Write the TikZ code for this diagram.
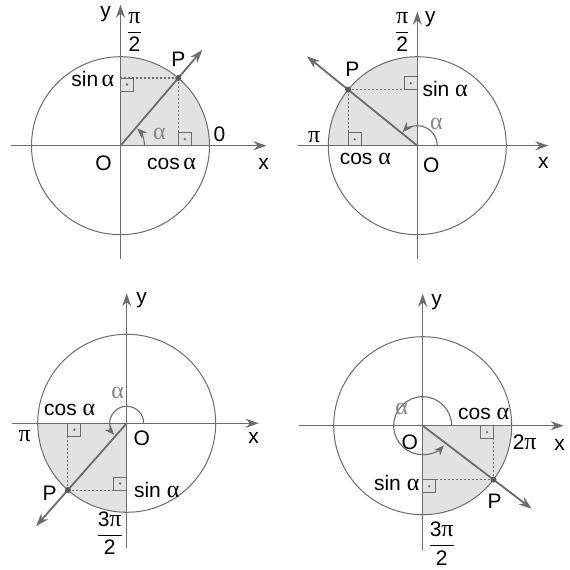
\documentclass[tikz,border=0pt]{standalone}
\usepackage{fontspec}
\usepackage{amsmath}
\usepackage{tikz}
\setmainfont{Liberation Sans}
\newfontfamily\grk{Liberation Serif}
\usetikzlibrary{arrows.meta}

\definecolor{lin}{HTML}{6C6C6C}
\definecolor{quadfill}{HTML}{E2E2E2}
\definecolor{alf}{HTML}{858585}

\newcommand{\galpha}{{\grk\fontsize{24}{24}\selectfont α}}
\newcommand{\gpi}{{\grk\fontsize{24}{24}\selectfont π}}

\tikzset{
  axis/.style={draw=lin, line width=1.4pt, ->},
  unit/.style={draw=lin, line width=1pt},
  ray/.style={draw=lin, line width=1.8pt, ->},
  proj/.style={draw=lin, line width=1.1pt, dash pattern=on 2pt off 2pt},
  turn/.style={draw=lin, line width=1.1pt, -{Stealth[length=10pt,width=8pt]}},
  quad/.style={fill=quadfill},
  rbox/.style={draw=lin, line width=0.9pt},
  lbl/.style={inner sep=1pt, font=\fontsize{21}{24}\selectfont},
  alab/.style={lbl, text=alf},
  pt/.style={circle, fill=black!65, inner sep=0pt, minimum size=6pt},
}

% right angle square with a dot
\newcommand{\rangmark}[3]{%
  \draw[rbox] (#1) rectangle ++(#2*13,#3*13);
  \fill[lin] (#1) ++(#2*6.5,#3*6.5) circle (1.3);}

\begin{document}
\begin{tikzpicture}[x=1pt, y=1pt, >={Stealth[length=13pt,width=9pt]}]
\useasboundingbox[fill=white] (0,0) rectangle (570,570);

% top left: first quadrant
\begin{scope}[shift={(120.5,424.3)}]
  \coordinate (O1) at (0,0);
  \coordinate (P1) at (49.5:89);
  \coordinate (R1) at (49.5:126);
  \coordinate (Xa1) at (-110,0);
  \coordinate (Xb1) at (146,0);
  \coordinate (Ya1) at (0,-113);
  \coordinate (Yb1) at (0,141);
  \coordinate (Fx1) at (P1 |- O1);
  \coordinate (Fy1) at (P1 -| O1);
  \fill[quad] (O1) -- (0:89) arc[start angle=0, end angle=90, radius=89] -- cycle;
  \draw[unit] (O1) circle (89);
  \draw[axis] (Xa1) -- (Xb1);
  \draw[axis] (Ya1) -- (Yb1);
  \draw[proj] (P1) -- (Fx1);
  \draw[proj] (P1) -- (Fy1);
  \rangmark{Fx1}{1}{1}
  \rangmark{Fy1}{1}{-1}
  \draw[ray] (O1) -- (R1);
  \draw[turn] (24,0) arc[start angle=0, end angle=46, radius=24];
  \node (D1) [pt] at (P1) {};
  \node (ylab1) [lbl] at (-15,132) {y};
  \node (half1) [lbl] at (14,114) {$\dfrac{\text{\gpi}}{\text{2}}$};
  \node (plab1) [lbl] at (58,86) {P};
  \node (sin1) [lbl, anchor=east] at (-5,67) {sin\,\galpha};
  \node (alpha1) [alab] at (39,12) {\galpha};
  \node (zero1) [lbl] at (99,11) {0};
  \node (olab1) [lbl] at (-17,-18) {O};
  \node (cos1) [lbl] at (51,-18) {cos\,\galpha};
  \node (xlab1) [lbl] at (143,-18) {x};
\end{scope}

% top right: second quadrant
\begin{scope}[shift={(417.3,424.3)}]
  \coordinate (O2) at (0,0);
  \coordinate (P2) at (141:89);
  \coordinate (R2) at (141:142);
  \coordinate (Xa2) at (-119,0);
  \coordinate (Xb2) at (131,0);
  \coordinate (Ya2) at (0,-113);
  \coordinate (Yb2) at (0,134);
  \coordinate (Fx2) at (P2 |- O2);
  \coordinate (Fy2) at (P2 -| O2);
  \fill[quad] (O2) -- (90:89) arc[start angle=90, end angle=180, radius=89] -- cycle;
  \draw[unit] (O2) circle (89);
  \draw[axis] (Xa2) -- (Xb2);
  \draw[axis] (Ya2) -- (Yb2);
  \draw[proj] (P2) -- (Fx2);
  \draw[proj] (P2) -- (Fy2);
  \rangmark{Fx2}{1}{1}
  \rangmark{Fy2}{-1}{1}
  \draw[ray] (O2) -- (R2);
  \draw[turn] (20,0) arc[start angle=0, end angle=137, radius=20];
  \node (D2) [pt] at (P2) {};
  \node (half2) [lbl] at (-15,114) {$\dfrac{\text{\gpi}}{\text{2}}$};
  \node (ylab2) [lbl] at (13,127) {y};
  \node (plab2) [lbl] at (-65,76) {P};
  \node (sin2) [lbl, anchor=west] at (4,57) {sin \galpha};
  \node (alpha2) [alab] at (19,22) {\galpha};
  \node (pi2) [lbl] at (-103,9) {\gpi};
  \node (cos2) [lbl] at (-52,-13) {cos \galpha};
  \node (olab2) [lbl] at (14,-20) {O};
  \node (xlab2) [lbl] at (126,-17) {x};
\end{scope}

% bottom left: third quadrant
\begin{scope}[shift={(126.7,146.7)}]
  \coordinate (O3) at (0,0);
  \coordinate (P3) at (228.6:89);
  \coordinate (R3) at (228.6:137);
  \coordinate (Xa3) at (-115,0);
  \coordinate (Xb3) at (132,0);
  \coordinate (Ya3) at (0,-125);
  \coordinate (Yb3) at (0,130);
  \coordinate (Fx3) at (P3 |- O3);
  \coordinate (Fy3) at (P3 -| O3);
  \fill[quad] (O3) -- (180:89) arc[start angle=180, end angle=270, radius=89] -- cycle;
  \draw[unit] (O3) circle (89);
  \draw[axis] (Xa3) -- (Xb3);
  \draw[axis] (Ya3) -- (Yb3);
  \draw[proj] (P3) -- (Fx3);
  \draw[proj] (P3) -- (Fy3);
  \rangmark{Fx3}{1}{-1}
  \rangmark{Fy3}{-1}{1}
  \draw[ray] (O3) -- (R3);
  \draw[turn] (17,0) arc[start angle=0, end angle=222, radius=17];
  \node (D3) [pt] at (P3) {};
  \node (ylab3) [lbl] at (15,123) {y};
  \node (alpha3) [alab] at (-9,30) {\galpha};
  \node (cos3) [lbl] at (-57,13) {cos \galpha};
  \node (pi3) [lbl] at (-102,-13) {\gpi};
  \node (olab3) [lbl] at (15,-15) {O};
  \node (xlab3) [lbl] at (127,-15) {x};
  \node (plab3) [lbl] at (-77,-70) {P};
  \node (sin3) [lbl] at (30,-67) {sin \galpha};
  \node (tpi3) [lbl] at (-17,-110) {$\dfrac{\text{3\gpi}}{\text{2}}$};
\end{scope}

% bottom right: fourth quadrant
\begin{scope}[shift={(422.7,144.3)}]
  \coordinate (O4) at (0,0);
  \coordinate (P4) at (322.7:89);
  \coordinate (R4) at (322.7:137);
  \coordinate (Xa4) at (-124,0);
  \coordinate (Xb4) at (141,0);
  \coordinate (Ya4) at (0,-124);
  \coordinate (Yb4) at (0,132);
  \coordinate (Fx4) at (P4 |- O4);
  \coordinate (Fy4) at (P4 -| O4);
  \fill[quad] (O4) -- (270:89) arc[start angle=270, end angle=360, radius=89] -- cycle;
  \draw[unit] (O4) circle (89);
  \draw[axis] (Xa4) -- (Xb4);
  \draw[axis] (Ya4) -- (Yb4);
  \draw[proj] (P4) -- (Fx4);
  \draw[proj] (P4) -- (Fy4);
  \rangmark{Fx4}{-1}{-1}
  \rangmark{Fy4}{1}{-1}
  \draw[ray] (O4) -- (R4);
  \draw[turn] (29,0) arc[start angle=0, end angle=317, radius=29];
  \node (D4) [pt] at (P4) {};
  \node (ylab4) [lbl] at (14,124) {y};
  \node (alpha4) [alab] at (-21,17) {\galpha};
  \node (cos4) [lbl] at (61,12) {cos \galpha};
  \node (olab4) [lbl] at (-13,-17) {O};
  \node (tpi4) [lbl] at (102,-17) {2\gpi};
  \node (xlab4) [lbl] at (137,-19) {x};
  \node (sin4) [lbl] at (-26,-57) {sin \galpha};
  \node (plab4) [lbl] at (72,-76) {P};
  \node (tpb4) [lbl] at (19,-118) {$\dfrac{\text{3\gpi}}{\text{2}}$};
\end{scope}
\end{tikzpicture}
\end{document}
